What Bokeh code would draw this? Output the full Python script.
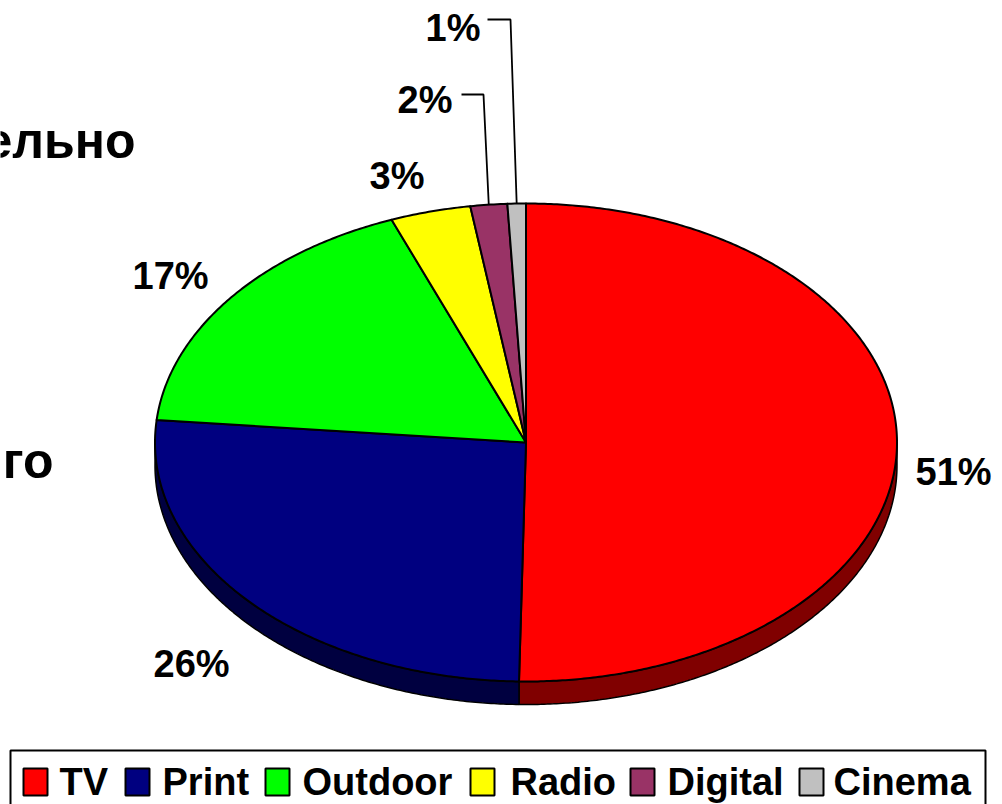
import numpy as np
from bokeh.plotting import figure
from bokeh.models import Range1d
from bokeh.core.properties import value
from bokeh.embed import file_html
from bokeh.resources import INLINE

categories = ["TV", "Print", "Outdoor", "Radio", "Digital", "Cinema"]
shares = [50.3, 26.2, 17.6, 3.5, 1.6, 0.8]
share_labels = ["51%", "26%", "17%", "3%", "2%", "1%"]
colors = ["#ff0000", "#000080", "#00ff00", "#ffff00", "#993366", "#c0c0c0"]
wall_colors = ["#800000", "#000040", "#008000", "#808000", "#4d1933", "#606060"]
clipped_texts = ["ельно", "го"]

FONT = value("Liberation Sans")
W, H = 1002, 804
CX, CY, RX, RY, DEPTH = 525.5, 442, 371, 239, 23

p = figure(width=W, height=H, output_backend="svg", toolbar_location=None,
           x_range=Range1d(0, W), y_range=Range1d(H, 0),
           min_border=0, outline_line_color=None)
p.axis.visible = False
p.grid.visible = False
p.background_fill_color = "white"
p.border_fill_color = "white"


def arc(a0, a1, dy=0.0, n=None):
    n = n or max(3, int(abs(a1 - a0) * 120))
    t = np.linspace(a0, a1, n)
    return CX + RX * np.sin(t), CY + dy - RY * np.cos(t)


edges = np.concatenate([[0], np.cumsum(shares)]) / sum(shares) * 2 * np.pi

# side wall: only the part of the rim that faces the viewer
for i in range(len(shares)):
    a0, a1 = max(edges[i], np.pi / 2), min(edges[i + 1], 3 * np.pi / 2)
    if a1 <= a0:
        continue
    xt, yt = arc(a0, a1)
    xb, yb = arc(a0, a1, DEPTH)
    p.patch(np.r_[xt, xb[::-1]], np.r_[yt, yb[::-1]], fill_color=wall_colors[i],
            line_color="black", line_width=1.5)

# top faces
for i in range(len(shares)):
    x, y = arc(edges[i], edges[i + 1])
    p.patch(np.r_[CX, x], np.r_[CY, y], fill_color=colors[i],
            line_color="black", line_width=2, line_join="round")

# data labels (left end and vertical middle of each text)
label_pos = [(915, 471), (153, 663), (132, 275), (369, 175), (397, 99), (425, 27)]
for t, (x, y) in zip(share_labels, label_pos):
    p.text([x], [y], text=[t], text_font=FONT, text_font_style="bold",
           text_font_size="38px", text_align="left", text_baseline="middle",
           text_color="black")

# leader lines of the two smallest slices
for i, (x0, x1, y0) in {4: (461, 483, 94), 5: (487, 510, 19)}.items():
    mid = (edges[i] + edges[i + 1]) / 2
    xa, ya = arc(mid, mid, n=2)
    p.line([x0, x1, xa[0]], [y0, y0, ya[0]], line_color="black", line_width=1.8)

# cropped fragments of the slide's text behind the chart
for t, xr, yb in zip(clipped_texts, (135, 53), (140, 460)):
    p.text([xr], [yb], text=[t], text_font=FONT, text_font_style="bold",
           text_font_size="50px", text_align="right", text_baseline="alphabetic",
           text_color="black")

# legend
box_x0, box_x1, box_y0 = 10, 985, 750
p.line([box_x0, box_x0, box_x1, box_x1], [H + 5, box_y0, box_y0, H + 5],
       line_color="black", line_width=2)
swatch_x = [23, 125, 265, 470, 630, 799]
text_x = [59, 162, 302, 510, 667, 833]
for c, col, sx, tx in zip(categories, colors, swatch_x, text_x):
    p.quad(left=[sx], right=[sx + 24], top=[768], bottom=[795], fill_color=col,
           line_color="black", line_width=2)
    p.text([tx], [781], text=[c], text_font=FONT, text_font_style="bold",
           text_font_size="38px", text_align="left", text_baseline="middle",
           text_color="black")

open("out.html", "w").write(file_html(p, INLINE))
